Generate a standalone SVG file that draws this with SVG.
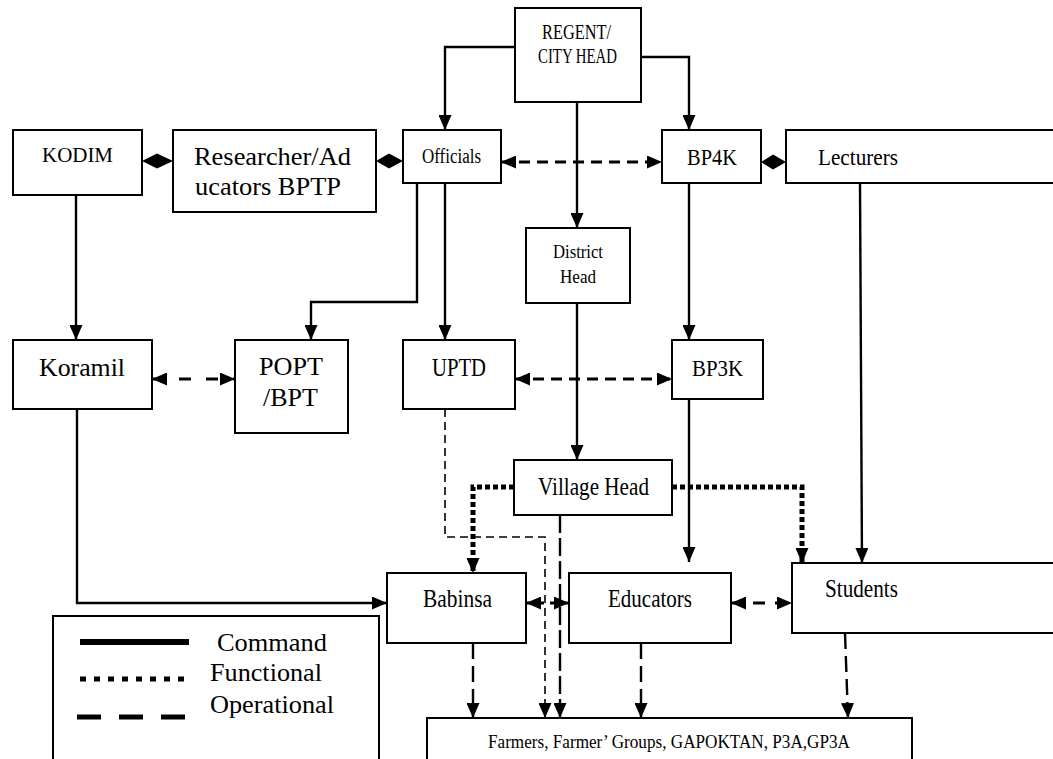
<svg xmlns="http://www.w3.org/2000/svg" width="1053" height="759" viewBox="0 0 1053 759">
<style>
.box{fill:#fff;stroke:#000;stroke-width:2}
.t{font-family:"Liberation Serif","Times New Roman",serif;fill:#000;text-anchor:start}
.c{fill:none;stroke:#000;stroke-width:2.4}
.cmd{marker-end:url(#ah)}
.dash2{fill:none;stroke:#000;stroke-width:3;stroke-dasharray:11 7;marker-start:url(#ah);marker-end:url(#ah)}
.dot{fill:none;stroke:#000;stroke-width:5;stroke-dasharray:5 3;marker-end:url(#ah)}
.op{fill:none;stroke:#000;stroke-width:2.4;stroke-dasharray:16 7;marker-end:url(#ah)}
</style>
<defs>
<marker id="ah" markerUnits="userSpaceOnUse" markerWidth="15" markerHeight="13" refX="15" refY="6.5" orient="auto-start-reverse">
<path d="M0,0 L15,6.5 L0,13 z" fill="#000"/>
</marker>
</defs>
<rect width="1053" height="759" fill="#fff"/>

<g id="connectors">
<path class="c cmd" d="M515,47 H445 V130"/>
<path class="c cmd" d="M641,57 H689 V130"/>
<path class="c cmd" d="M577,102 V228"/>
<path class="c cmd" d="M76,195 V340"/>
<path class="c cmd" d="M417,183 V302 H311 V340"/>
<path class="c cmd" d="M445,183 V340"/>
<path class="c cmd" d="M689,183 V340"/>
<path class="c cmd" d="M860,183 L862,563"/>
<path class="c cmd" d="M577,303 V460"/>
<path class="c cmd" d="M77,409 V603 H387"/>
<path class="c cmd" d="M689,399 V562"/>
<path class="dash2" d="M501,162 H662"/>
<path class="dash2" d="M152,379 H235" style="stroke-dasharray:12 15"/>
<path class="dash2" d="M515,379 H672"/>
<path class="dash2" d="M526,603 H569" style="stroke-dasharray:6 6"/>
<path class="dash2" d="M731,603 H792" style="stroke-dasharray:12 10"/>
<path class="dot" d="M514,487 H473 V573"/>
<path class="dot" d="M672,487 H802 V563"/>
<path d="M445,409 V537 H545 V718" fill="none" stroke="#000" stroke-width="1.6" stroke-dasharray="8 5" marker-end="url(#ah)"/>
<path class="op" d="M560,515 V718" style="stroke-dasharray:18 5"/>
<path class="op" d="M473,643 V718"/>
<path class="op" d="M641,643 V718"/>
<path class="op" d="M845,633 L848,718"/>
<polygon points="142,161 157,153.5 173,161 157,168.5" fill="#000"/>
<polygon points="376,161 389,153.5 403,161 389,168.5" fill="#000"/>
<polygon points="761,162 773,154.5 786,162 773,169.5" fill="#000"/>
</g>

<g id="regent">
<rect class="box" x="515" y="8" width="126" height="94"/>
<text class="t" x="542" y="39" font-size="20" textLength="69" lengthAdjust="spacingAndGlyphs">REGENT/</text>
<text class="t" x="538" y="63" font-size="20" textLength="79" lengthAdjust="spacingAndGlyphs">CITY HEAD</text>
</g>
<g id="kodim">
<rect class="box" x="13" y="130" width="129" height="65"/>
<text class="t" x="42" y="162" font-size="21" textLength="71" lengthAdjust="spacingAndGlyphs">KODIM</text>
</g>
<g id="researcher">
<rect class="box" x="173" y="130" width="203" height="82"/>
<text class="t" x="194" y="165" font-size="26" textLength="157" lengthAdjust="spacingAndGlyphs">Researcher/Ad</text>
<text class="t" x="195" y="195" font-size="26" textLength="146" lengthAdjust="spacingAndGlyphs">ucators BPTP</text>
</g>
<g id="officials">
<rect class="box" x="403" y="130" width="98" height="53"/>
<text class="t" x="422" y="163" font-size="20" textLength="59" lengthAdjust="spacingAndGlyphs">Officials</text>
</g>
<g id="bp4k">
<rect class="box" x="662" y="130" width="99" height="53"/>
<text class="t" x="687" y="165" font-size="24" textLength="50" lengthAdjust="spacingAndGlyphs">BP4K</text>
</g>
<g id="lecturers">
<rect class="box" x="786" y="130" width="290" height="53"/>
<text class="t" x="818" y="165" font-size="24" textLength="80" lengthAdjust="spacingAndGlyphs">Lecturers</text>
</g>
<g id="district">
<rect class="box" x="526" y="228" width="104" height="75"/>
<text class="t" x="553" y="258" font-size="18" textLength="50" lengthAdjust="spacingAndGlyphs">District</text>
<text class="t" x="560" y="283" font-size="18" textLength="36" lengthAdjust="spacingAndGlyphs">Head</text>
</g>
<g id="koramil">
<rect class="box" x="13" y="340" width="139" height="69"/>
<text class="t" x="39" y="376" font-size="26" textLength="86" lengthAdjust="spacingAndGlyphs">Koramil</text>
</g>
<g id="popt">
<rect class="box" x="235" y="340" width="113" height="93"/>
<text class="t" x="259" y="375" font-size="26" textLength="64" lengthAdjust="spacingAndGlyphs">POPT</text>
<text class="t" x="263" y="406" font-size="26" textLength="55" lengthAdjust="spacingAndGlyphs">/BPT</text>
</g>
<g id="uptd">
<rect class="box" x="403" y="340" width="112" height="69"/>
<text class="t" x="432" y="376" font-size="25" textLength="54" lengthAdjust="spacingAndGlyphs">UPTD</text>
</g>
<g id="bp3k">
<rect class="box" x="672" y="340" width="91" height="59"/>
<text class="t" x="692" y="376" font-size="24" textLength="51" lengthAdjust="spacingAndGlyphs">BP3K</text>
</g>
<g id="village">
<rect class="box" x="514" y="460" width="158" height="55"/>
<text class="t" x="538" y="495" font-size="25" textLength="111" lengthAdjust="spacingAndGlyphs">Village Head</text>
</g>
<g id="babinsa">
<rect class="box" x="387" y="573" width="139" height="70"/>
<text class="t" x="423" y="607" font-size="25" textLength="69" lengthAdjust="spacingAndGlyphs">Babinsa</text>
</g>
<g id="educators">
<rect class="box" x="569" y="573" width="162" height="70"/>
<text class="t" x="608" y="607" font-size="25" textLength="84" lengthAdjust="spacingAndGlyphs">Educators</text>
</g>
<g id="students">
<rect class="box" x="792" y="563" width="290" height="70"/>
<text class="t" x="825" y="597" font-size="25" textLength="73" lengthAdjust="spacingAndGlyphs">Students</text>
</g>
<g id="farmers">
<rect class="box" x="427" y="718" width="485" height="60"/>
<text class="t" x="488" y="748" font-size="18" textLength="362" lengthAdjust="spacingAndGlyphs">Farmers, Farmer’ Groups, GAPOKTAN, P3A,GP3A</text>
</g>
<g id="legend">
<rect class="box" x="53" y="616" width="326" height="160"/>
<line x1="80" y1="642" x2="189" y2="642" stroke="#000" stroke-width="6"/>
<line x1="80" y1="679" x2="189" y2="679" stroke="#000" stroke-width="5" stroke-dasharray="6 8"/>
<line x1="77" y1="717" x2="187" y2="717" stroke="#000" stroke-width="5" stroke-dasharray="24 18"/>
<text class="t" x="217" y="651" font-size="25" textLength="110" lengthAdjust="spacingAndGlyphs">Command</text>
<text class="t" x="210" y="681" font-size="25" textLength="112" lengthAdjust="spacingAndGlyphs">Functional</text>
<text class="t" x="210" y="713" font-size="25" textLength="124" lengthAdjust="spacingAndGlyphs">Operational</text>
</g>
</svg>
